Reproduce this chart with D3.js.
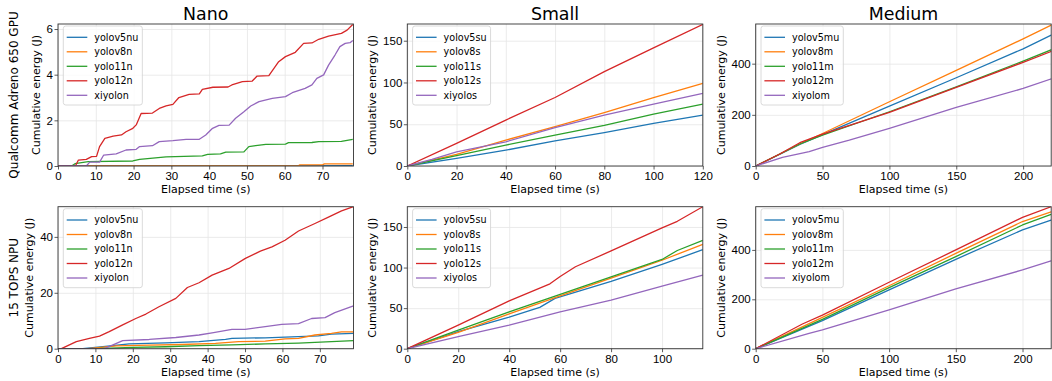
<!DOCTYPE html>
<html>
<head>
<meta charset="utf-8">
<script src="https://cdn.jsdelivr.net/npm/d3@7"></script>
<style>
  body { margin: 0; background: #fff; }
  svg { font-family: "DejaVu Sans", sans-serif; }
  .grid line { stroke: #e6e6e6; stroke-width: 0.8; }
  .grid path { display: none; }
  .axis path { display: none; }
  .axis line { stroke: #333; stroke-width: 0.8; }
  .axis text { font-size: 11.5px; fill: #000; }
</style>
</head>
<body>
<div id="chart"></div>
<script>
// ---- data (time s, cumulative energy J) ----
var colors = ["#1f77b4", "#ff7f0e", "#2ca02c", "#d62728", "#9467bd"];

var nanoNames = ["yolov5nu", "yolov8n", "yolo11n", "yolo12n", "xiyolon"];
var smallNames = ["yolov5su", "yolov8s", "yolo11s", "yolo12s", "xiyolos"];
var mediumNames = ["yolov5mu", "yolov8m", "yolo11m", "yolo12m", "xiyolom"];
var rowLabels = ["Qualcomm Adreno 650 GPU", "15 TOPS NPU"];
var colTitles = ["Nano", "Small", "Medium"];

// GPU - nano
var gpuNanoV5 = [[0, 0], [60, 0], [78, 0.01]];
var gpuNanoV8 = [[0, 0], [63.5, 0], [64, 0.05], [70, 0.05], [70.5, 0.09], [78, 0.09]];
var gpuNano11 = [[0, 0], [3.6, 0], [4.5, 0.1], [8, 0.19], [19.8, 0.22], [21.6, 0.29], [28.6, 0.4], [38.2, 0.44], [39.6, 0.51], [43, 0.53], [44.4, 0.61], [49.2, 0.62], [50.5, 0.85], [52.3, 0.89], [55, 0.95], [60.2, 0.96], [61, 1.02], [67.2, 1.03], [69, 1.07], [75, 1.08], [78, 1.17]];
var gpuNano12 = [[0, 0], [4.6, 0], [5.4, 0.26], [7.5, 0.29], [8.9, 0.41], [10.2, 0.42], [11, 0.85], [12.4, 1.21], [14.6, 1.31], [16.8, 1.36], [18, 1.5], [19.8, 1.65], [20.7, 1.8], [22, 2.3], [25, 2.32], [26.8, 2.52], [28.6, 2.63], [30.4, 2.7], [32, 3.0], [34.7, 3.14], [37.4, 3.16], [38.2, 3.36], [41, 3.45], [45, 3.46], [46, 3.55], [48.8, 3.7], [51.4, 3.72], [52.7, 3.94], [55.8, 3.96], [58.4, 4.57], [60.2, 4.79], [62.8, 4.98], [65, 5.37], [67.2, 5.39], [69, 5.55], [71.6, 5.69], [75, 5.81], [76.5, 5.95], [78, 6.2]];
var gpuNanoXi = [[0, 0], [7.5, 0], [8.4, 0.17], [11, 0.17], [12.1, 0.48], [15.4, 0.53], [18, 0.7], [20.7, 0.73], [21.6, 0.85], [25, 0.89], [26.8, 1.07], [30.4, 1.11], [33.9, 1.17], [37.4, 1.17], [39.1, 1.36], [40.9, 1.65], [42.6, 1.78], [45.3, 1.79], [47, 2.09], [49.2, 2.38], [51, 2.63], [53.2, 2.82], [56.7, 2.96], [60.2, 3.04], [62, 3.21], [65.4, 3.4], [67.2, 3.55], [68.5, 3.84], [70.3, 3.99], [71.6, 4.42], [73.3, 4.86], [74.6, 5.23], [76, 5.37], [77.3, 5.4], [78, 5.5]];

// GPU - small
var gpuSmallV5 = [[0, 0], [20, 9], [40, 19], [60, 30], [80, 40], [100, 51], [120, 61]];
var gpuSmallV8 = [[0, 0], [20, 14], [40, 31], [60, 47], [80, 64], [100, 82], [120, 99]];
var gpuSmall11 = [[0, 0], [20, 12.4], [40, 25], [60, 37], [80, 48.6], [100, 62], [120, 74]];
var gpuSmall12 = [[0, 0], [20, 27], [40, 55], [60, 82], [80, 113], [100, 141.5], [120, 169.5]];
var gpuSmallXi = [[0, 0], [10, 8], [20, 17], [40, 29], [60, 46], [80, 61], [100, 74], [120, 87]];

// GPU - medium
var gpuMedV5 = [[0, 0], [33, 84], [50, 123], [100, 234], [150, 345], [200, 458], [222, 514]];
var gpuMedV8 = [[0, 0], [33, 86], [50, 127], [100, 251], [150, 374], [200, 497], [222, 553]];
var gpuMed11 = [[0, 0], [33, 86], [50, 121], [100, 212], [150, 309], [200, 410], [222, 456]];
var gpuMed12 = [[0, 0], [18, 47], [33, 91], [50, 125], [100, 210], [150, 307], [200, 405], [222, 450]];
var gpuMedXi = [[0, 0], [20, 34], [40, 56], [50, 73], [70, 101], [100, 147], [150, 229], [200, 303], [222, 342]];

// NPU - nano
var npuNanoV5 = [[0, 0], [6.6, 0], [12, 0.7], [19, 1.7], [28.8, 2.1], [37.7, 2.5], [44.8, 3.3], [46.5, 3.7], [55.4, 3.9], [64.3, 4.3], [69.6, 4.6], [73.1, 5.2], [79, 5.5]];
var npuNanoV8 = [[0, 0], [8, 0], [15.5, 1.0], [24.4, 1.3], [33.2, 1.5], [42.1, 1.9], [48.3, 2.5], [55.4, 2.7], [60.7, 3.5], [64.3, 3.7], [68.7, 4.9], [73.1, 5.5], [75.8, 6.0], [79, 6.0]];
var npuNano11 = [[0, 0], [10, 0], [20, 0.5], [28.8, 0.7], [37.7, 1.1], [46.5, 1.4], [55.4, 1.7], [64.3, 2.0], [73.1, 2.5], [79, 2.9]];
var npuNano12 = [[0, 0], [0.9, 0], [4.9, 2.5], [8.4, 3.7], [11.1, 4.5], [13.7, 6.1], [17.3, 8.5], [20.8, 10.8], [23.5, 12.4], [27, 15], [31.5, 18], [34.6, 21.9], [37.7, 23.6], [41.2, 26.3], [45.7, 28.7], [50.1, 32.3], [54.1, 34.9], [57.2, 36.4], [60.7, 38.8], [64.3, 42.1], [68.7, 44.8], [72.3, 47.1], [75.8, 49.3], [79, 50.8]];
var npuNanoXi = [[0, 0], [12.4, 0], [17.3, 2.9], [24.4, 3.3], [31.5, 4.0], [37.7, 4.9], [41.2, 5.7], [46.5, 6.9], [50, 6.9], [55.4, 7.9], [59.8, 8.7], [64.3, 9.0], [67.8, 10.8], [71.4, 11.1], [74, 12.9], [79, 15.3]];

// NPU - small
var npuSmallV5 = [[0, 0], [20, 21], [40, 39], [52, 51], [58, 62], [80, 83], [100, 104], [116, 122]];
var npuSmallV8 = [[0, 0], [20, 20], [40, 43], [60, 65], [80, 87], [100, 109], [116, 128.7]];
var npuSmall11 = [[0, 0], [20, 23], [40, 45.5], [60, 67], [80, 88.5], [100, 110], [106, 121], [116, 133.6]];
var npuSmall12 = [[0, 0], [20, 29], [40, 59], [56, 80], [60, 89], [66, 101], [80, 120.5], [100, 149], [106, 157], [116, 175]];
var npuSmallXi = [[0, 0], [20, 15], [40, 29], [60, 45.5], [80, 60], [100, 77], [116, 90.6]];

// NPU - medium
var npuMedV5 = [[0, 0], [50, 113.5], [100, 238], [150, 362], [200, 481], [222, 522]];
var npuMedV8 = [[0, 0], [50, 127], [100, 255], [150, 386], [200, 515], [222, 555]];
var npuMed11 = [[0, 0], [50, 119], [100, 247], [150, 373], [200, 501], [222, 545]];
var npuMed12 = [[0, 0], [35, 100], [50, 136], [100, 269], [150, 400], [200, 532], [222, 576]];
var npuMedXi = [[0, 0], [40, 62], [50, 76], [100, 157], [150, 242], [200, 319], [222, 357]];

// axis domains and ticks
var xMaxes = [[78.2, 120, 221], [79, 116, 221.5]];
var yMaxes = [[6.22, 170, 555], [50.8, 175, 575]];
var xTickSets = [[0, 10, 20, 30, 40, 50, 60, 70], [0, 20, 40, 60, 80, 100, 120], [0, 50, 100, 150, 200]];
var yTickSets = [[[0, 2, 4, 6], [0, 50, 100, 150], [0, 200, 400]], [[0, 20, 40], [0, 50, 100, 150], [0, 200, 400]]];

var seriesByPanel = [
  [[gpuNanoV5, gpuNanoV8, gpuNano11, gpuNano12, gpuNanoXi],
   [gpuSmallV5, gpuSmallV8, gpuSmall11, gpuSmall12, gpuSmallXi],
   [gpuMedV5, gpuMedV8, gpuMed11, gpuMed12, gpuMedXi]],
  [[npuNanoV5, npuNanoV8, npuNano11, npuNano12, npuNanoXi],
   [npuSmallV5, npuSmallV8, npuSmall11, npuSmall12, npuSmallXi],
   [npuMedV5, npuMedV8, npuMed11, npuMed12, npuMedXi]]
];
var namesByCol = [nanoNames, smallNames, mediumNames];

// ---- layout ----
var W = 1052, H = 381;
var colLeft = [58, 407.3, 755.7];
var rowTop = [24, 206.7];
var pw = 295.5, ph = 142;

var svg = d3.select("#chart").append("svg")
  .attr("width", W)
  .attr("height", H);

svg.append("defs").append("clipPath")
  .attr("id", "clip")
  .append("rect")
  .attr("width", pw)
  .attr("height", ph);

for (var r = 0; r < 2; r++) {
  for (var c = 0; c < 3; c++) {
    drawPanel(r, c);
  }
}

// column titles
colTitles.forEach(function(t, c) {
  svg.append("text")
    .attr("x", colLeft[c] + pw / 2)
    .attr("y", 20)
    .attr("text-anchor", "middle")
    .style("font-size", "17.4px")
    .text(t);
});

// row labels
rowLabels.forEach(function(t, r) {
  svg.append("text")
    .attr("transform", "translate(18," + (rowTop[r] + ph / 2) + ") rotate(-90)")
    .attr("text-anchor", "middle")
    .style("font-size", "12px")
    .text(t);
});

function drawPanel(r, c) {
  var g = svg.append("g")
    .attr("transform", "translate(" + colLeft[c] + "," + rowTop[r] + ")");

  var x = d3.scaleLinear().domain([0, xMaxes[r][c]]).range([0, pw]);
  var y = d3.scaleLinear().domain([0, yMaxes[r][c]]).range([ph, 0]);

  var xt = xTickSets[c].filter(function(v) { return v <= xMaxes[r][c]; });
  var yt = yTickSets[r][c];
  var fmt = d3.format("d");

  // grid
  g.append("g").attr("class", "grid")
    .attr("transform", "translate(0," + ph + ")")
    .call(d3.axisBottom(x).tickValues(xt).tickSize(-ph).tickFormat(""));
  g.append("g").attr("class", "grid")
    .call(d3.axisLeft(y).tickValues(yt).tickSize(-pw).tickFormat(""));

  // lines
  var line = d3.line()
    .x(function(d) { return x(d[0]); })
    .y(function(d) { return y(d[1]); });

  var series = seriesByPanel[r][c];
  g.append("g").attr("clip-path", "url(#clip)")
    .selectAll("path")
    .data(series)
    .enter().append("path")
    .attr("d", line)
    .style("fill", "none")
    .style("stroke", function(d, i) { return colors[i]; })
    .style("stroke-width", 1.3)
    .style("stroke-linejoin", "round");

  // axes
  g.append("g").attr("class", "axis")
    .attr("transform", "translate(0," + ph + ")")
    .call(d3.axisBottom(x).tickValues(xt).tickFormat(fmt).tickSize(3.5).tickPadding(2.5).tickSizeOuter(0));
  var yAxisG = g.append("g").attr("class", "axis")
    .call(d3.axisLeft(y).tickValues(yt).tickFormat(fmt).tickSize(3.5).tickPadding(1.5).tickSizeOuter(0));

  // frame
  g.append("rect")
    .attr("width", pw)
    .attr("height", ph)
    .style("fill", "none")
    .style("stroke", "#333")
    .style("stroke-width", 0.9);

  // axis labels
  g.append("text")
    .attr("x", pw / 2)
    .attr("y", ph + 27)
    .attr("text-anchor", "middle")
    .style("font-size", "11px")
    .text("Elapsed time (s)");

  var maxW = 0;
  yAxisG.selectAll("text").each(function() {
    maxW = Math.max(maxW, this.getComputedTextLength());
  });
  g.append("text")
    .attr("transform", "translate(" + (-5 - maxW - 7) + "," + (ph / 2) + ") rotate(-90)")
    .attr("text-anchor", "middle")
    .style("font-size", "11px")
    .text("Cumulative energy (J)");

  // legend
  var names = namesByCol[c];
  var lg = g.append("g").attr("transform", "translate(5.3,2)");
  var box = lg.append("rect")
    .attr("rx", 2.5)
    .attr("height", 79)
    .style("fill", "#fff")
    .style("fill-opacity", 0.8)
    .style("stroke", "#d0d0d0")
    .style("stroke-width", 0.8);
  var tw = 0;
  names.forEach(function(n, i) {
    var yy = 11.3 + i * 14.5;
    lg.append("line")
      .attr("x1", 3.4).attr("x2", 24)
      .attr("y1", yy).attr("y2", yy)
      .style("stroke", colors[i])
      .style("stroke-width", 1.3);
    var t = lg.append("text")
      .attr("x", 31)
      .attr("y", yy + 3.4)
      .style("font-size", "9.6px")
      .text(n);
    tw = Math.max(tw, t.node().getComputedTextLength());
  });
  box.attr("width", 31 + tw + 4);
}
</script>
</body>
</html>
